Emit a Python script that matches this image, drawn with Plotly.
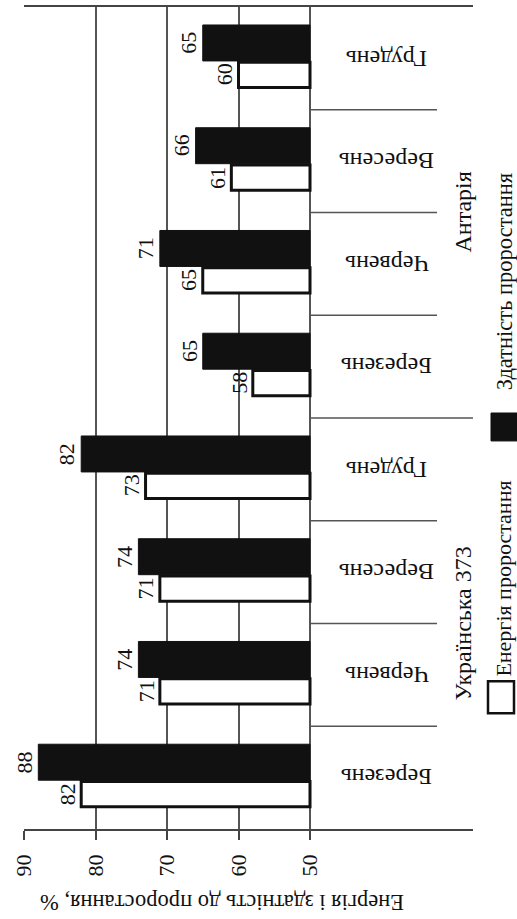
import plotly.graph_objects as go

# ---------------- data ----------------
months = ["Березень", "Червень", "Вересень", "Грудень",
          "Березень", "Червень", "Вересень", "Грудень"]
varieties = ["Українська 373", "Антарія"]
variety_of_month = [0, 0, 0, 0, 1, 1, 1, 1]
energy = [82, 71, 71, 73, 58, 65, 61, 60]          # white bars
capacity = [88, 74, 74, 82, 65, 71, 66, 65]        # black bars
tick_vals = [90, 80, 70, 60, 50]
tick_text = ["90", "80", "70", "60", "50"]
axis_title = "Енергія і здатність до проростання, %"
legend_names = ["Енергія проростання", "Здатність проростання"]

# ---------------- geometry (pixels of 517x919 page) ----------------
W, H = 517, 919
L, R, T, B = 24, 473, 5, 829
BASE = 50
X_LEFT = 90
UNIT_PX = 7.15                     # pixels per percent
X_RIGHT = X_LEFT - (R - L) / UNIT_PX

FONT = "Liberation Serif"
n = len(months)
centers = [i + 0.5 for i in range(n)]
y_black = [c + 0.15 for c in centers]
y_white = [c - 0.16 for c in centers]


def pxx(p):
    return (p - L) / (R - L)


def pxy(p):
    return (B - p) / (B - T)


fig = go.Figure()
fig.add_trace(go.Bar(
    orientation="h", y=y_black, x=[v - BASE for v in capacity], base=BASE,
    width=0.35, marker=dict(color="#111111", line=dict(color="#111111", width=1)),
    name=legend_names[1], showlegend=False, hoverinfo="skip"))
fig.add_trace(go.Bar(
    orientation="h", y=y_white, x=[v - BASE for v in energy], base=BASE,
    width=0.245, marker=dict(color="white", line=dict(color="#111111", width=3)),
    name=legend_names[0], showlegend=False, hoverinfo="skip"))

annotations = []
shapes = []

# value labels
for vals, ys in ((capacity, y_black), (energy, y_white)):
    for v, y in zip(vals, ys):
        annotations.append(dict(
            x=v, y=y, xref="x", yref="y", text=str(v), showarrow=False,
            textangle=-90, xanchor="center", yanchor="middle", xshift=-14,
            font=dict(family=FONT, size=22, color="#111")))

# month labels (upside down)
for m, c in zip(months, centers):
    annotations.append(dict(
        x=pxx(387), y=c, xref="paper", yref="y", text=m, showarrow=False,
        textangle=180, xanchor="center", yanchor="middle",
        font=dict(family=FONT, size=24, color="#111")))

# variety labels
for k, name in enumerate(varieties):
    idx = [i for i, g in enumerate(variety_of_month) if g == k]
    yc = (min(idx) + max(idx) + 1) / 2
    annotations.append(dict(
        x=pxx(462), y=yc, xref="paper", yref="y", text=name, showarrow=False,
        textangle=-90, xanchor="center", yanchor="middle",
        font=dict(family=FONT, size=24, color="#111")))

# category separators
for i in range(1, n):
    group_break = variety_of_month[i] != variety_of_month[i - 1]
    shapes.append(dict(
        type="line", xref="x", yref="y", x0=BASE,
        x1=X_RIGHT if group_break else BASE - (437 - 310) / UNIT_PX,
        y0=i, y1=i, line=dict(color="#555", width=1.5), layer="below"))

# axis title (upside down)
annotations.append(dict(
    x=pxx(222), y=pxy(902), xref="paper", yref="paper", text=axis_title,
    showarrow=False, textangle=180, xanchor="center", yanchor="middle",
    font=dict(family=FONT, size=22.5, color="#111")))

# legend (rotated)
shapes.append(dict(type="rect", xref="paper", yref="paper",
                   x0=pxx(488), x1=pxx(514), y0=pxy(713), y1=pxy(681),
                   line=dict(color="#111", width=2.5), fillcolor="white"))
shapes.append(dict(type="rect", xref="paper", yref="paper",
                   x0=pxx(491), x1=pxx(518), y0=pxy(440), y1=pxy(412),
                   line=dict(color="#111", width=1), fillcolor="#111"))
annotations.append(dict(
    x=pxx(504), y=pxy(578), xref="paper", yref="paper", text=legend_names[0],
    showarrow=False, textangle=-90, xanchor="center", yanchor="middle",
    font=dict(family=FONT, size=22, color="#111")))
annotations.append(dict(
    x=pxx(504), y=pxy(280), xref="paper", yref="paper", text=legend_names[1],
    showarrow=False, textangle=-90, xanchor="center", yanchor="middle",
    font=dict(family=FONT, size=22.5, color="#111")))

fig.update_layout(
    width=W, height=H, margin=dict(l=L, r=W - R, t=T, b=H - B),
    paper_bgcolor="white", plot_bgcolor="white",
    barmode="overlay", showlegend=False,
    xaxis=dict(range=[X_LEFT, X_RIGHT], tickvals=tick_vals, ticktext=tick_text,
               tickangle=-90, ticks="outside", ticklen=9, tickwidth=1.5,
               tickcolor="#444", showgrid=True, gridcolor="#555", gridwidth=1.5,
               showline=True, linecolor="#444", linewidth=1.5, mirror=True,
               zeroline=False, ticklabelstandoff=6,
               tickfont=dict(family=FONT, size=22, color="#111")),
    yaxis=dict(range=[0, n], showgrid=False, showticklabels=False,
               ticks="", zeroline=False, showline=False),
    annotations=annotations, shapes=shapes,
)

fig.write_html("out.html")
